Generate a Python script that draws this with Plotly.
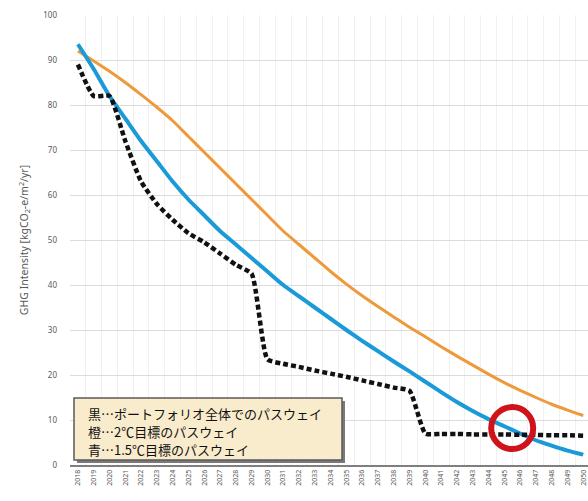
import plotly.graph_objects as go

years = list(range(2018, 2051))
year_labels = [str(y) for y in years]

pathway_2c = [92, 89.8, 87.5, 85, 82.3, 79.5, 76.5, 73, 69.5, 66, 62.5, 59, 55.5, 52,
              49, 46, 43, 40.2, 37.6, 35.2, 32.9, 30.6, 28.5, 26.3, 24.2, 22.2, 20.2,
              18.3, 16.6, 15, 13.5, 12.2, 11]
pathway_15c = [93.5, 88, 82, 77, 72, 67.5, 63, 59, 55.5, 52, 49, 46, 43, 40, 37.5, 35,
               32.5, 30, 27.6, 25.3, 23, 20.8, 18.5, 16.2, 14, 12, 10.2, 8.6, 7, 5.5,
               4.3, 3.2, 2.3]
portfolio = [89, 82, 82, 72, 63, 58, 54.5, 51.5, 49.5, 47, 44.5, 42.5, 23.5, 22.5, 21.8,
             21, 20.3, 19.6, 18.8, 18, 17.2, 16.5, 7, 6.9, 6.9, 6.8, 6.8, 6.8, 6.7, 6.7,
             6.6, 6.6, 6.5]

legend_lines = ["黒…ポートフォリオ全体でのパスウェイ",
                "橙…2℃目標のパスウェイ",
                "青…1.5℃目標のパスウェイ"]
y_ticks = list(range(0, 101, 10))
highlight_year = 2045.5
highlight_value = 8.2

fig = go.Figure()
fig.add_trace(go.Scatter(x=years, y=pathway_2c, mode="lines",
                         line=dict(color="#ee9a3a", width=3, shape="spline", smoothing=0.6)))
fig.add_trace(go.Scatter(x=years, y=pathway_15c, mode="lines",
                         line=dict(color="#1a9ad8", width=4, shape="spline", smoothing=0.6)))
fig.add_trace(go.Scatter(x=years, y=portfolio, mode="lines",
                         line=dict(color="#111111", width=4.5, dash="5px,3px",
                                   shape="spline", smoothing=0.5)))

# highlight circle
fig.add_shape(type="circle", xref="x", yref="y", xsizemode="pixel", ysizemode="pixel",
              xanchor=highlight_year, yanchor=highlight_value,
              x0=-21, x1=21, y0=-21, y1=21,
              line=dict(color="#d0121b", width=6))

# legend box (shadow + box)
fig.add_shape(type="rect", xref="paper", yref="paper",
              x0=(77 - 70) / 518, x1=(345 - 70) / 518,
              y0=(465 - 463) / 450, y1=(465 - 401) / 450,
              fillcolor="#7a7a7a", line=dict(width=0), layer="above")
fig.add_shape(type="rect", xref="paper", yref="paper",
              x0=(74 - 70) / 518, x1=(342 - 70) / 518,
              y0=(465 - 460) / 450, y1=(465 - 398) / 450,
              fillcolor="#f9eccc", line=dict(color="#5a5a5a", width=1.5), layer="above")
for i, t in enumerate(legend_lines):
    fig.add_annotation(text=t, xref="paper", yref="paper",
                       x=(86 - 70) / 518, y=(465 - (413 + i * 18)) / 450,
                       xanchor="left", yanchor="middle", showarrow=False,
                       font=dict(family="Noto Sans CJK JP", size=13, color="#111111"))

fig.update_layout(
    width=588, height=501,
    margin=dict(l=70, r=0, t=15, b=36),
    paper_bgcolor="white", plot_bgcolor="white",
    showlegend=False,
    font=dict(family="Noto Sans", color="#595959"),
)
fig.update_xaxes(
    range=[2017.5, 2050.3], tickvals=years, ticktext=year_labels, tickangle=-90,
    tickfont=dict(size=7, color="#595959"), showgrid=False,
    minor=dict(tick0=2017.5, dtick=1, showgrid=True, gridcolor="#f0f0f0", gridwidth=1),
    showline=True, linecolor="#7f7f7f", linewidth=2, zeroline=False, ticks="",
)
fig.update_yaxes(
    range=[0, 100], tickvals=y_ticks, tickfont=dict(size=8, color="#595959"),
    showgrid=True, gridcolor="#dcdcdc", gridwidth=1, zeroline=False,
    ticklabelstandoff=12,
    title=dict(text="GHG Intensity [kgCO<sub>2</sub>-e/m<sup>2</sup>/yr]",
               font=dict(size=10.5, color="#595959"), standoff=12),
)

fig.write_html("out.html")
